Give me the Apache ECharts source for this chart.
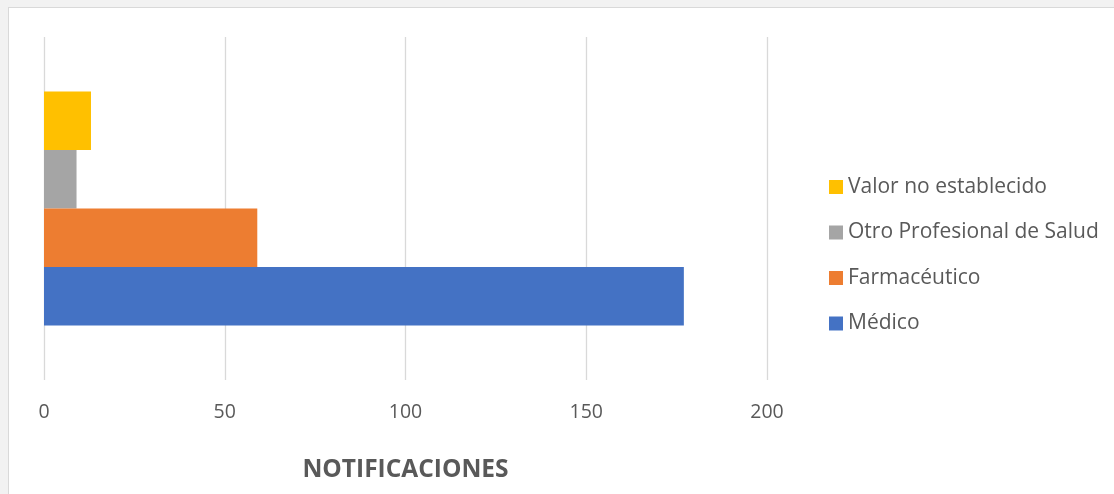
<!DOCTYPE html>
<html>
<head>
<meta charset="utf-8">
<script src="https://cdn.jsdelivr.net/npm/echarts@6/dist/echarts.min.js"></script>
<style>
  html, body { margin: 0; padding: 0; background: #f2f2f2; width: 1114px; height: 494px; overflow: hidden; }
  #panel { position: absolute; left: 8px; top: 7px; width: 1120px; height: 500px; background: #ffffff; border: 1px solid #d9d9d9; box-sizing: border-box; }
  #chart { position: absolute; left: 0; top: 0; width: 1114px; height: 494px; }
</style>
</head>
<body>
<div id="panel"></div>
<div id="chart"></div>
<script>
const categories = [''];
const seriesNames = ['Valor no establecido', 'Otro Profesional de Salud', 'Farmacéutico', 'Médico'];
const valorNoEstablecido = [13];
const otro = [9];
const farmaceutico = [59];
const medico = [177];
const xTicks = [0, 50, 100, 150, 200];
const axisTitle = 'NOTIFICACIONES';

const colors = ['#FFC000', '#A5A5A5', '#ED7D31', '#4472C4'];
const values = [valorNoEstablecido, otro, farmaceutico, medico];

const chart = echarts.init(document.getElementById('chart'), null, { renderer: 'canvas' });
const font = '"Open Sans", "Noto Sans", sans-serif';

chart.setOption({
  backgroundColor: 'transparent',
  animation: false,
  color: colors,
  textStyle: { fontFamily: font },
  grid: { left: 44, right: 347, top: 37, bottom: 114, containLabel: false },
  legend: {
    orient: 'vertical',
    left: 824,
    top: 171,
    itemWidth: 14,
    itemHeight: 14,
    itemGap: 23.5,
    icon: 'rect',
    data: seriesNames,
    textStyle: { fontFamily: font, fontSize: 21, color: '#595959', lineHeight: 22 }
  },
  xAxis: {
    type: 'value',
    min: xTicks[0],
    max: xTicks[xTicks.length - 1],
    interval: xTicks[1] - xTicks[0],
    axisLine: { show: false },
    axisTick: { show: false },
    splitLine: { show: true, lineStyle: { color: '#d9d9d9', width: 1.3 } },
    axisLabel: { fontFamily: font, fontSize: 19.5, color: '#595959', margin: 22 },
    name: axisTitle,
    nameLocation: 'middle',
    nameGap: 78,
    nameTextStyle: { fontFamily: font, fontSize: 24.5, fontWeight: 'bold', color: '#595959' }
  },
  yAxis: {
    type: 'category',
    data: categories,
    axisLine: { show: false },
    axisTick: { show: false },
    axisLabel: { show: false },
    splitLine: { show: false }
  },
  series: seriesNames.map((n, i) => ({
    name: n,
    type: 'bar',
    data: values[i],
    barGap: '0%',
    barCategoryGap: '31.8%'
  }))
});
</script>
</body>
</html>
